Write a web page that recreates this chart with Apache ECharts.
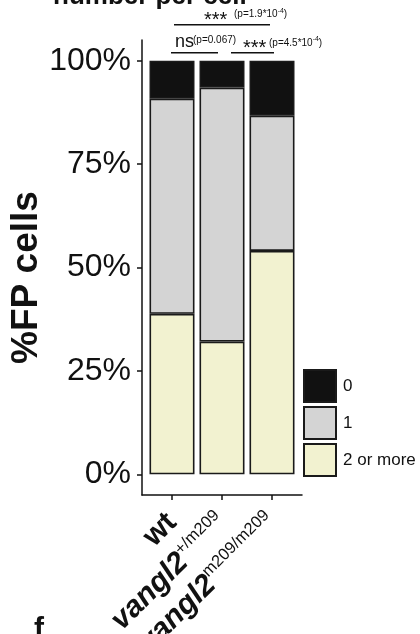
<!DOCTYPE html>
<html>
<head>
<meta charset="utf-8">
<script src="https://cdn.jsdelivr.net/npm/echarts@6/dist/echarts.min.js"></script>
<style>
  html, body { margin: 0; padding: 0; background: #ffffff; }
  #chart { width: 420px; height: 634px; }
</style>
</head>
<body>
<div id="chart"></div>
<script>
// Genotypes along the x axis (gene name + superscript allele)
const genotypes = ['wt', 'vangl2+/m209', 'vangl2m209/m209'];
const genotypeNames = ['wt', 'vangl2', 'vangl2'];
const genotypeAlleles = ['', '+/m209', 'm209/m209'];
const genotypePositions = [1, 2, 3];

// Share of FP cells (%) by number per cell
const shareTwoOrMore = [38.8, 32.1, 54.0];
const shareOne = [52.0, 61.4, 32.7];
const shareZero = [9.2, 6.5, 13.3];

// Legend / series names
const groupNames = ['0', '1', '2 or more'];

// Y axis ticks
const yTicks = [0, 25, 50, 75, 100];
const yTickLabels = ['0%', '25%', '50%', '75%', '100%'];

// Pairwise comparisons between genotypes
const compFrom = [1.04, 0.98, 2.18];
const compTo = [2.96, 1.92, 3.04];
const compLevel = [108.7, 101.9, 101.9];
const compMark = ['***', 'ns', '***'];
const compP = ['(p=1.9*10', '(p=0.067)', '(p=4.5*10'];
const compExp = ['-4', '', '-4'];

// Label placement relative to each bracket (pixels)
const markShiftX = [30, 4, 12];
const pGapX = [6, 0, 2];

const FONT = '"Liberation Sans", Arial, Helvetica, sans-serif';
const INK = '#111111';
const fills = { '0': '#111111', '1': '#d4d4d4', '2 or more': '#f2f2d0' };

const chart = echarts.init(document.getElementById('chart'), null, { renderer: 'canvas' });

function barSeries(name, values) {
  return {
    name: name,
    type: 'bar',
    stack: 'share',
    xAxisIndex: 0,
    yAxisIndex: 0,
    barWidth: 45,
    data: values,
    itemStyle: { color: fills[name], borderColor: '#1a1a1a', borderWidth: 1.6 },
    emphasis: { disabled: true }
  };
}

chart.setOption({
  animation: false,
  backgroundColor: '#ffffff',
  textStyle: { fontFamily: FONT },
  grid: [
    // plotting band: one 50px slot per genotype
    { left: 147, right: 123, top: 40, bottom: 139, containLabel: false, outerBoundsMode: 'none' },
    // axis frame with the panel padding
    { left: 142, right: 118, top: 40, bottom: 139, containLabel: false, outerBoundsMode: 'none' }
  ],
  xAxis: [
    {
      gridIndex: 0,
      type: 'category',
      data: genotypes,
      show: false
    },
    {
      gridIndex: 1,
      type: 'value',
      min: 0.4,
      max: 3.6,
      splitLine: { show: false },
      axisLine: { show: true, onZero: false, lineStyle: { color: INK, width: 1.5 } },
      axisTick: { show: true, customValues: genotypePositions, length: 5, lineStyle: { color: INK, width: 1.5 } },
      axisLabel: {
        customValues: genotypePositions,
        rotate: 45,
        margin: 23,
        hideOverlap: false,
        formatter: function (v) {
          const i = genotypePositions.indexOf(v);
          if (i < 0) return '';
          if (!genotypeAlleles[i]) return '{b|' + genotypeNames[i] + '}';
          return '{i|' + genotypeNames[i] + '}{s|' + genotypeAlleles[i] + '}';
        },
        rich: {
          b: { fontFamily: FONT, fontSize: 30, fontWeight: 'bold', color: INK, lineHeight: 32 },
          i: { fontFamily: FONT, fontSize: 30, fontWeight: 'bold', fontStyle: 'italic', color: INK, lineHeight: 32, verticalAlign: 'bottom' },
          s: { fontFamily: FONT, fontSize: 16.5, color: INK, verticalAlign: 'top', lineHeight: 32 }
        }
      }
    }
  ],
  yAxis: [
    {
      gridIndex: 0,
      type: 'value',
      min: -5,
      max: 105,
      show: false
    },
    {
      gridIndex: 1,
      type: 'value',
      min: -5,
      max: 105,
      name: '%FP cells',
      nameLocation: 'middle',
      nameGap: 88,
      nameRotate: 90,
      nameTextStyle: { fontFamily: FONT, fontSize: 37, fontWeight: 'bold', color: INK, padding: [0, 20, 0, 0] },
      splitLine: { show: false },
      axisLine: { show: true, onZero: false, lineStyle: { color: INK, width: 1.5 } },
      axisTick: { show: true, customValues: yTicks, length: 5, lineStyle: { color: INK, width: 1.5 } },
      axisLabel: {
        customValues: yTicks,
        margin: 11,
        fontFamily: FONT,
        fontSize: 32,
        color: INK,
        formatter: function (v) {
          const i = yTicks.indexOf(v);
          return i < 0 ? '' : yTickLabels[i];
        }
      }
    }
  ],
  legend: {
    data: groupNames,
    orient: 'vertical',
    left: 303,
    top: 369,
    padding: 0,
    itemWidth: 32,
    itemHeight: 32,
    itemGap: 3,
    icon: 'rect',
    selectedMode: false,
    textStyle: { fontFamily: FONT, fontSize: 17, color: INK, padding: [0, 0, 0, 2] }
  },
  series: [
    barSeries('2 or more', shareTwoOrMore),
    barSeries('1', shareOne),
    barSeries('0', shareZero)
  ]
});

// Significance brackets and their labels, placed through the frame's scales
const graphics = [];
compFrom.forEach(function (from, k) {
  const a = chart.convertToPixel({ gridIndex: 1 }, [from, compLevel[k]]);
  const b = chart.convertToPixel({ gridIndex: 1 }, [compTo[k], compLevel[k]]);
  graphics.push({
    type: 'line',
    shape: { x1: a[0], y1: a[1], x2: b[0], y2: b[1] },
    style: { stroke: INK, lineWidth: 1.6 },
    silent: true
  });
  const isStar = compMark[k] === '***';
  const markX = a[0] + markShiftX[k];
  const markWidth = isStar ? 24 : 18;
  graphics.push({
    type: 'text',
    x: markX,
    y: isStar ? a[1] - 4 : a[1] - 11,
    silent: true,
    style: {
      text: compMark[k],
      fontFamily: FONT,
      fontSize: isStar ? 20 : 18,
      fill: INK,
      align: 'left',
      verticalAlign: 'middle'
    }
  });
  const pText = compExp[k]
    ? '{n|' + compP[k] + '}{e|' + compExp[k] + '}{n|)}'
    : '{n|' + compP[k] + '}';
  graphics.push({
    type: 'text',
    x: markX + markWidth + pGapX[k],
    y: isStar ? a[1] - 11 : a[1] - 14,
    silent: true,
    style: {
      text: pText,
      fontFamily: FONT,
      fill: INK,
      align: 'left',
      verticalAlign: 'middle',
      rich: {
        n: { fontFamily: FONT, fontSize: 10, fill: INK, lineHeight: 12, verticalAlign: 'bottom' },
        e: { fontFamily: FONT, fontSize: 7, fill: INK, lineHeight: 12, verticalAlign: 'top' }
      }
    }
  });
});

// Panel heading and figure letter (both run off the page edge)
graphics.push({
  type: 'text', x: 53, y: -3, silent: true,
  style: { text: 'number per cell', fontFamily: FONT, fontSize: 26, fontWeight: 'bold', fill: INK, align: 'left', verticalAlign: 'middle' }
});
graphics.push({
  type: 'text', x: 34, y: 615, silent: true,
  style: { text: 'f', fontFamily: FONT, fontSize: 30, fontWeight: 'bold', fill: INK, align: 'left', verticalAlign: 'top' }
});

chart.setOption({ graphic: graphics });
</script>
</body>
</html>
